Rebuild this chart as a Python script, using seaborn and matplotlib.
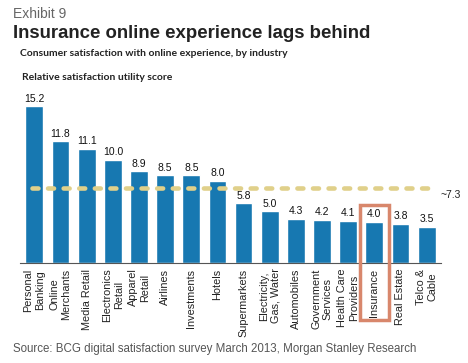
import matplotlib
matplotlib.use("Agg")
import matplotlib.pyplot as plt
import matplotlib.patches as mpatches
import seaborn as sns
import pandas as pd

# Industries and relative satisfaction utility scores
industries = [
    "Personal\nBanking", "Online\nMerchants", "Media Retail", "Electronics\nRetail",
    "Apparel\nRetail", "Airlines", "Investments", "Hotels", "Supermarkets",
    "Electricity,\nGas, Water", "Automobiles", "Government\nServices",
    "Health Care\nProviders", "Insurance", "Real Estate", "Telco &\nCable",
]
scores = [15.2, 11.8, 11.1, 10.0, 8.9, 8.5, 8.5, 8.0, 5.8, 5.0, 4.3, 4.2, 4.1, 4.0, 3.8, 3.5]
average_score = 7.3
highlight = "Insurance"

df = pd.DataFrame({"industry": industries, "score": scores})

sns.set_style("white")
plt.rcParams["font.family"] = ["Liberation Sans", "DejaVu Sans"]

bar_color = "#1778B1"
line_color = "#E0D08A"
box_color = "#D8876C"

fig = plt.figure(figsize=(4.68, 3.63), dpi=100)
ax = fig.add_axes([20 / 468, 100 / 363, 421 / 468, 165 / 363])

sns.barplot(data=df, x="industry", y="score", color=bar_color, width=0.68,
            saturation=1, ax=ax)

n = len(industries)
ax.set_ylim(0, 16)
ax.set_xlim(-0.55, n - 0.45)

# value labels
for i, v in enumerate(scores):
    ax.text(i, v + 0.25, f"{v:.1f}", ha="center", va="bottom", fontsize=7.5,
            color="#111111")

# average dashed line
ax.plot([-0.1, n - 0.75], [average_score, average_score], color=line_color,
        lw=3.3, ls=(0, (1.3, 2.1)), solid_capstyle="round", dash_capstyle="round",
        zorder=3)
ax.text(n - 0.45, average_score - 0.2, f"~{average_score}", ha="left",
        va="top", fontsize=7.5, color="#222222")

ax.set_xlabel("")
ax.set_ylabel("")
ax.set_yticks([])
ax.set_xticks(range(n))
ax.set_xticklabels(industries, rotation=90, ha="center", va="top",
                   multialignment="center", fontsize=7.8, color="#222222")
ax.tick_params(axis="x", length=0, pad=4)
for s in ["top", "right", "left"]:
    ax.spines[s].set_visible(False)
ax.spines["bottom"].set_color("#555555")
ax.spines["bottom"].set_linewidth(0.8)

# highlight box round Insurance
hi = industries.index(highlight)
box = mpatches.Rectangle((hi - 0.55, -5.5), 1.1, 5.5 + 5.6, fill=False,
                         edgecolor=box_color, lw=2.5, clip_on=False, zorder=4)
ax.add_patch(box)

fig.text(13 / 468, 1 - 14 / 363, "Exhibit 9", fontsize=10, color="#666666", va="center")
fig.text(13 / 468, 1 - 33 / 363, "Insurance online experience lags behind", fontsize=13.4,
         fontweight="bold", color="#222222", va="center")
fig.text(20 / 468, 1 - 53 / 363, "Consumer satisfaction with online experience, by industry",
         fontsize=7.5, fontweight="bold", color="#222222", va="center",
         family=["Lato", "DejaVu Sans"])
fig.text(22 / 468, 1 - 77 / 363, "Relative satisfaction utility score", fontsize=7.5,
         fontweight="bold", color="#222222", va="center", family=["Lato", "DejaVu Sans"])
fig.text(13 / 468, 1 - 349 / 363,
         "Source: BCG digital satisfaction survey March 2013, Morgan Stanley Research",
         fontsize=8.3, color="#555555", va="center")

fig.savefig("out.png", dpi=100)
